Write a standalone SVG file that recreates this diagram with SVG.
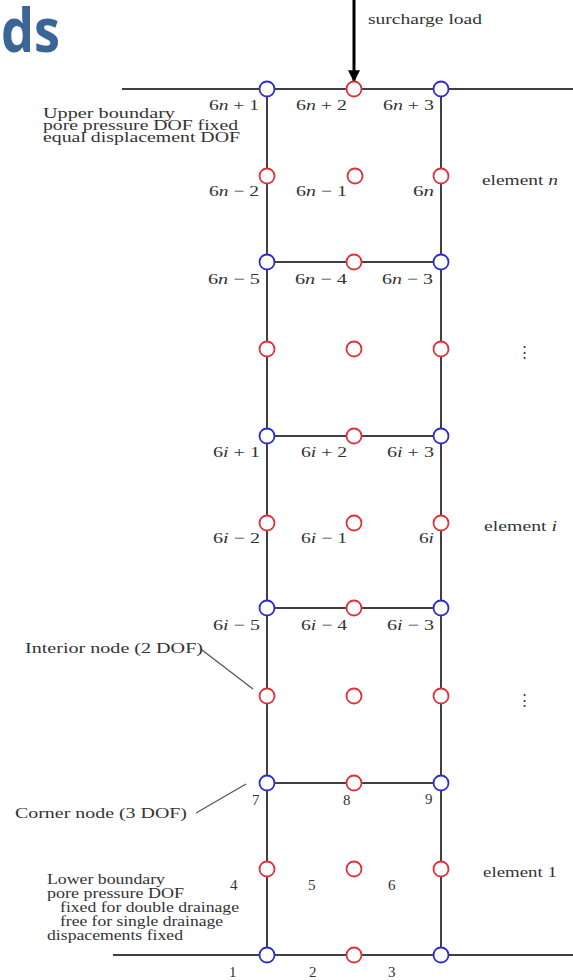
<svg xmlns="http://www.w3.org/2000/svg" width="573" height="980" viewBox="0 0 573 980">
<defs>
<style>
.ln{stroke:#404040;stroke-width:2;fill:none}
.lead{stroke:#555;stroke-width:1.3;fill:none}
.c{stroke:#2b2bd6;stroke-width:1.8;fill:#fff}
.m{stroke:#e0303a;stroke-width:1.8;fill:#fff}
text{font-family:"Liberation Serif","DejaVu Serif",serif;font-size:15px;fill:#333}
.b{font-size:14px}
.r{text-anchor:end}
.it{font-style:italic}
.ds{font-family:"Open Sans","Noto Sans",sans-serif;font-weight:bold;font-size:60px;fill:#3b6597}
</style>
<marker id="ah" viewBox="0 0 10 10" refX="9" refY="5" markerWidth="4" markerHeight="4" orient="auto" markerUnits="strokeWidth">
<path d="M0,0 L10,5 L0,10 z" fill="#000"/>
</marker>
</defs>
<rect width="573" height="980" fill="#fff"/>
<text class="ds" x="1" y="52" textLength="59" lengthAdjust="spacingAndGlyphs">ds</text>
<g id="connectors">
<line class="ln" x1="122" y1="89" x2="573" y2="89"/>
<line class="ln" x1="113" y1="955" x2="573" y2="955"/>
<line class="ln" x1="267" y1="89" x2="267" y2="955"/>
<line class="ln" x1="441" y1="89" x2="441" y2="955"/>
<line class="ln" x1="267" y1="262" x2="441" y2="262"/>
<line class="ln" x1="267" y1="436" x2="441" y2="436"/>
<line class="ln" x1="267" y1="608" x2="441" y2="608"/>
<line class="ln" x1="267" y1="783" x2="441" y2="783"/>
<line x1="354" y1="0" x2="354" y2="81" stroke="#000" stroke-width="3" marker-end="url(#ah)"/>
<line class="lead" x1="202" y1="650" x2="253" y2="689"/>
<line class="lead" x1="196" y1="813" x2="246" y2="784"/>
</g>
<g id="nodes">
<g id="n6n1"><circle class="c" cx="267" cy="89" r="7.5"/><text x="209" y="110" textLength="50" lengthAdjust="spacingAndGlyphs">6<tspan class="it">n</tspan> + 1</text></g>
<g id="n6n2"><circle class="m" cx="354" cy="89" r="7.5"/><text x="296" y="110" textLength="51" lengthAdjust="spacingAndGlyphs">6<tspan class="it">n</tspan> + 2</text></g>
<g id="n6n3"><circle class="c" cx="441" cy="89" r="7.5"/><text x="383" y="110" textLength="51" lengthAdjust="spacingAndGlyphs">6<tspan class="it">n</tspan> + 3</text></g>
<g id="n6nm2"><circle class="m" cx="267" cy="176" r="7.5"/><text x="209" y="196" textLength="50" lengthAdjust="spacingAndGlyphs">6<tspan class="it">n</tspan> − 2</text></g>
<g id="n6nm1"><circle class="m" cx="355" cy="176" r="7.5"/><text x="296" y="196" textLength="51" lengthAdjust="spacingAndGlyphs">6<tspan class="it">n</tspan> − 1</text></g>
<g id="n6n"><circle class="m" cx="441" cy="176" r="7.5"/><text x="413" y="196" textLength="21" lengthAdjust="spacingAndGlyphs">6<tspan class="it">n</tspan></text></g>
<g id="n6nm5"><circle class="c" cx="267" cy="262" r="7.5"/><text x="208" y="284" textLength="52" lengthAdjust="spacingAndGlyphs">6<tspan class="it">n</tspan> − 5</text></g>
<g id="n6nm4"><circle class="m" cx="354" cy="262" r="7.5"/><text x="295" y="284" textLength="52" lengthAdjust="spacingAndGlyphs">6<tspan class="it">n</tspan> − 4</text></g>
<g id="n6nm3"><circle class="c" cx="441" cy="262" r="7.5"/><text x="382" y="284" textLength="51" lengthAdjust="spacingAndGlyphs">6<tspan class="it">n</tspan> − 3</text></g>
<g id="dotsrow1"><circle class="m" cx="267" cy="349" r="7.5"/><circle class="m" cx="354" cy="349" r="7.5"/><circle class="m" cx="441" cy="349" r="7.5"/></g>
<g id="n6i1"><circle class="c" cx="267" cy="436" r="7.5"/><text x="213" y="457" textLength="47" lengthAdjust="spacingAndGlyphs">6<tspan class="it">i</tspan> + 1</text></g>
<g id="n6i2"><circle class="m" cx="354" cy="436" r="7.5"/><text x="301" y="457" textLength="46" lengthAdjust="spacingAndGlyphs">6<tspan class="it">i</tspan> + 2</text></g>
<g id="n6i3"><circle class="c" cx="441" cy="436" r="7.5"/><text x="387" y="457" textLength="47" lengthAdjust="spacingAndGlyphs">6<tspan class="it">i</tspan> + 3</text></g>
<g id="n6im2"><circle class="m" cx="267" cy="523" r="7.5"/><text x="213" y="543" textLength="47" lengthAdjust="spacingAndGlyphs">6<tspan class="it">i</tspan> − 2</text></g>
<g id="n6im1"><circle class="m" cx="354" cy="523" r="7.5"/><text x="301" y="543" textLength="46" lengthAdjust="spacingAndGlyphs">6<tspan class="it">i</tspan> − 1</text></g>
<g id="n6i"><circle class="m" cx="441" cy="523" r="7.5"/><text x="419" y="543" textLength="15" lengthAdjust="spacingAndGlyphs">6<tspan class="it">i</tspan></text></g>
<g id="n6im5"><circle class="c" cx="267" cy="608" r="7.5"/><text x="213" y="630" textLength="47" lengthAdjust="spacingAndGlyphs">6<tspan class="it">i</tspan> − 5</text></g>
<g id="n6im4"><circle class="m" cx="354" cy="608" r="7.5"/><text x="301" y="630" textLength="46" lengthAdjust="spacingAndGlyphs">6<tspan class="it">i</tspan> − 4</text></g>
<g id="n6im3"><circle class="c" cx="441" cy="608" r="7.5"/><text x="387" y="630" textLength="47" lengthAdjust="spacingAndGlyphs">6<tspan class="it">i</tspan> − 3</text></g>
<g id="dotsrow2"><circle class="m" cx="267" cy="696" r="7.5"/><circle class="m" cx="354" cy="696" r="7.5"/><circle class="m" cx="441" cy="696" r="7.5"/></g>
<g id="n7"><circle class="c" cx="267" cy="783" r="7.5"/><text x="252" y="805">7</text></g>
<g id="n8"><circle class="m" cx="354" cy="783" r="7.5"/><text x="343" y="805">8</text></g>
<g id="n9"><circle class="c" cx="441" cy="783" r="7.5"/><text x="425" y="804">9</text></g>
<g id="n4"><circle class="m" cx="267" cy="869" r="7.5"/><text x="230" y="890">4</text></g>
<g id="n5"><circle class="m" cx="354" cy="869" r="7.5"/><text x="308" y="890">5</text></g>
<g id="n6"><circle class="m" cx="441" cy="869" r="7.5"/><text x="388" y="890">6</text></g>
<g id="n1"><circle class="c" cx="267" cy="955" r="7.5"/><text x="229" y="977">1</text></g>
<g id="n2"><circle class="m" cx="354" cy="955" r="7.5"/><text x="309" y="977">2</text></g>
<g id="n3"><circle class="c" cx="441" cy="955" r="7.5"/><text x="388" y="977">3</text></g>
</g>
<g id="labels">
<text x="368" y="24" textLength="114" lengthAdjust="spacingAndGlyphs">surcharge load</text>
<text class="b" x="43" y="118" textLength="132" lengthAdjust="spacingAndGlyphs">Upper boundary</text>
<text class="b" x="43" y="130" textLength="195" lengthAdjust="spacingAndGlyphs">pore pressure DOF fixed</text>
<text class="b" x="43" y="142" textLength="197" lengthAdjust="spacingAndGlyphs">equal displacement DOF</text>
<text x="482" y="185" textLength="76" lengthAdjust="spacingAndGlyphs">element <tspan class="it">n</tspan></text>
<text x="484" y="531" textLength="73" lengthAdjust="spacingAndGlyphs">element <tspan class="it">i</tspan></text>
<text x="483" y="877" textLength="74" lengthAdjust="spacingAndGlyphs">element 1</text>
<text x="517" y="357">⋮</text>
<text x="517" y="705">⋮</text>
<text x="25" y="653" textLength="178" lengthAdjust="spacingAndGlyphs">Interior node (2 DOF)</text>
<text x="15" y="818" textLength="172" lengthAdjust="spacingAndGlyphs">Corner node (3 DOF)</text>
<text class="b" x="47" y="884" textLength="118" lengthAdjust="spacingAndGlyphs">Lower boundary</text>
<text class="b" x="47" y="898" textLength="137" lengthAdjust="spacingAndGlyphs">pore pressure DOF</text>
<text class="b" x="60" y="912" textLength="179" lengthAdjust="spacingAndGlyphs">fixed for double drainage</text>
<text class="b" x="60" y="926" textLength="163" lengthAdjust="spacingAndGlyphs">free for single drainage</text>
<text class="b" x="47" y="940" textLength="136" lengthAdjust="spacingAndGlyphs">dispacements fixed</text>
</g>
</svg>
